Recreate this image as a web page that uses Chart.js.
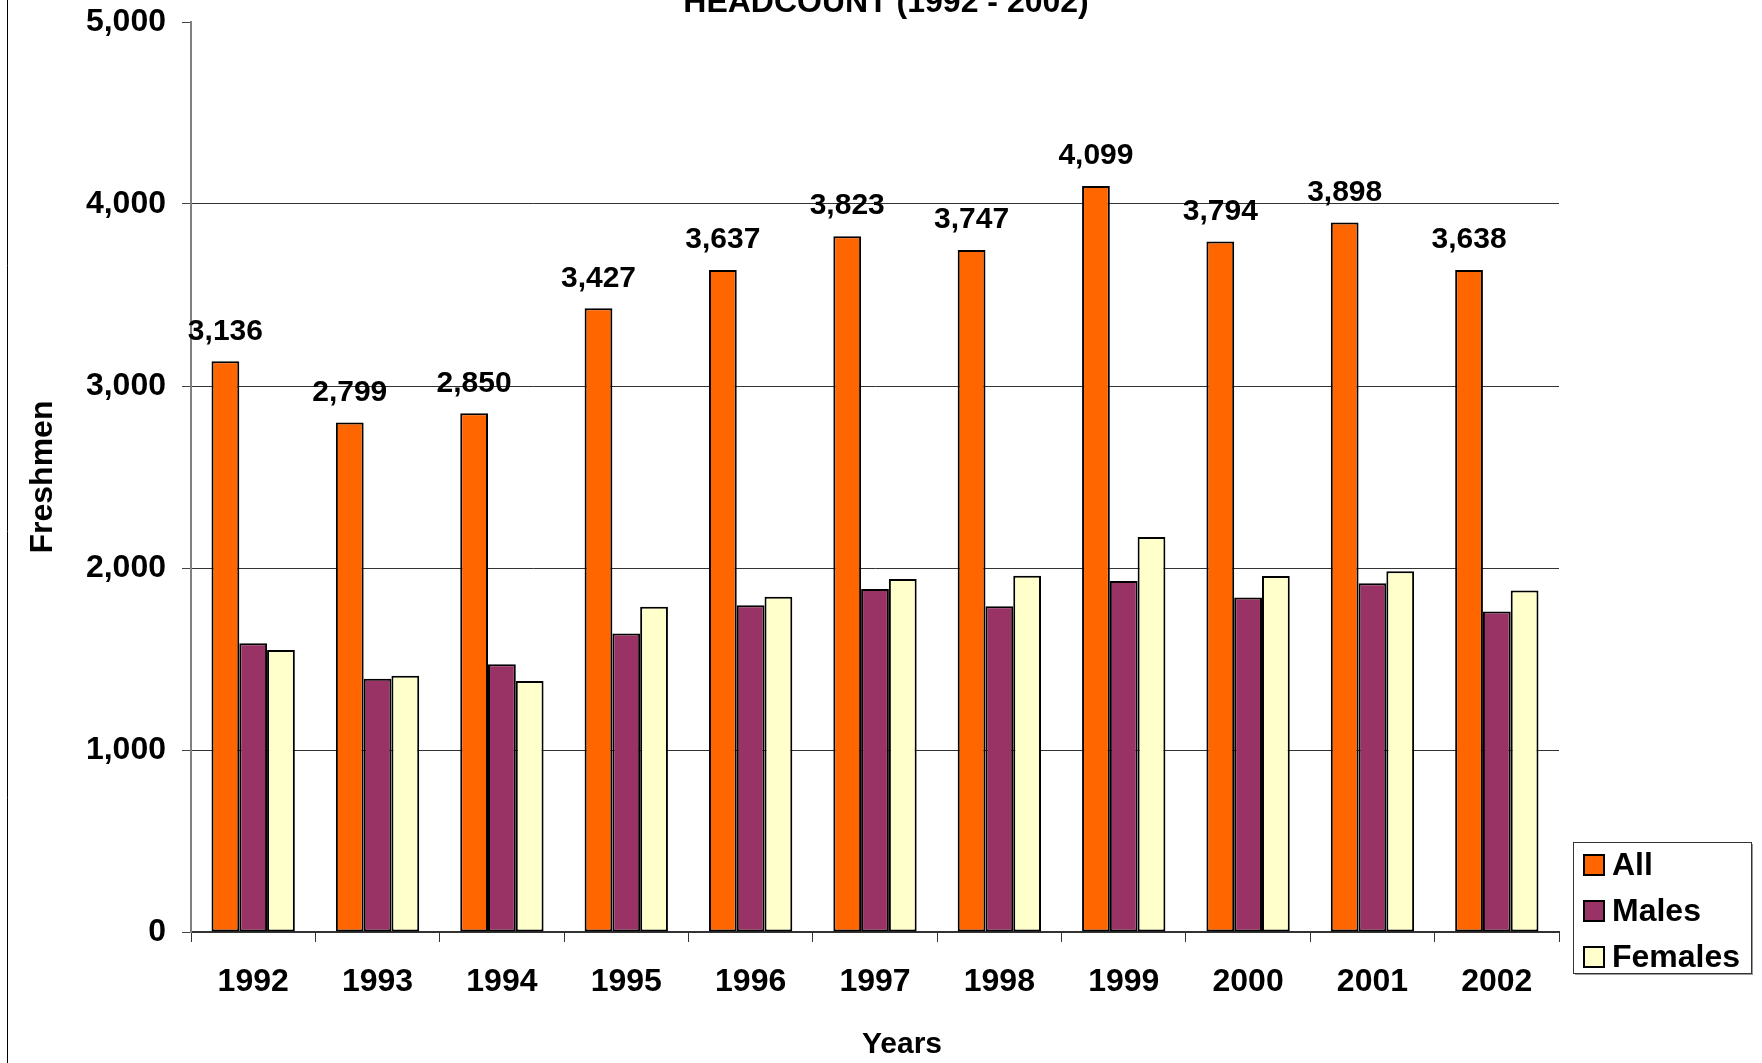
<!DOCTYPE html>
<html>
<head>
<meta charset="utf-8">
<script src="https://cdn.jsdelivr.net/npm/chart.js@4.4.0/dist/chart.umd.min.js"></script>
<style>
    html, body { margin: 0; padding: 0; background: #fff; }
    #chartData { display: block; }
</style>
</head>
<body>
<canvas id="chartData" width="1762" height="1063"></canvas>
<script>
let years = ["1992", "1993", "1994", "1995", "1996", "1997", "1998", "1999", "2000", "2001", "2002"];
let allCounts = [3136, 2799, 2850, 3427, 3637, 3823, 3747, 4099, 3794, 3898, 3638];
let males = [1586, 1391, 1471, 1640, 1795, 1884, 1790, 1929, 1838, 1916, 1761];
let females = [1550, 1408, 1379, 1787, 1842, 1939, 1957, 2170, 1956, 1982, 1877];
let seriesNames = ["All", "Males", "Females"];
let yMin = 0, yMax = 5000, yStep = 1000;

const FONT = "'Liberation Sans', Arial, sans-serif";

// value labels over the "All" bars
const valueLabels = {
    id: "valueLabels",
    afterDatasetsDraw(chart) {
        const ctx = chart.ctx;
        const meta = chart.getDatasetMeta(0);
        ctx.save();
        ctx.font = "bold 30px " + FONT;
        ctx.fillStyle = "#000";
        ctx.textAlign = "center";
        ctx.textBaseline = "middle";
        meta.data.forEach((bar, i) => {
            ctx.fillText(allCounts[i].toLocaleString("en-US"), bar.x, bar.y - 30);
        });
        ctx.restore();
    }
};

// title, x axis title, frame line and boxed legend
const extras = {
    id: "extras",
    afterDraw(chart) {
        const ctx = chart.ctx;
        ctx.save();
        ctx.strokeStyle = "#000";
        ctx.lineWidth = 1;
        ctx.beginPath();
        ctx.moveTo(7.5, 0);
        ctx.lineTo(7.5, chart.height);
        ctx.stroke();

        ctx.fillStyle = "#000";
        ctx.textAlign = "center";
        ctx.font = "bold 32px " + FONT;
        ctx.textBaseline = "alphabetic";
        ctx.fillText("HEADCOUNT (1992 - 2002)", 886, 12);

        ctx.font = "bold 30px " + FONT;
        ctx.textBaseline = "middle";
        ctx.fillText("Years", 902, 1045);

        // legend
        const lx = 1573, ly = 842, lw = 178, lh = 131;
        ctx.fillStyle = "#999";
        ctx.fillRect(lx + 2, ly + 2, lw, lh);
        ctx.fillStyle = "#fff";
        ctx.fillRect(lx, ly, lw, lh);
        ctx.strokeStyle = "#333";
        ctx.strokeRect(lx + 0.5, ly + 0.5, lw, lh);
        ctx.textAlign = "left";
        ctx.font = "bold 32px " + FONT;
        chart.data.datasets.forEach((ds, i) => {
            const cy = 865 + i * 46;
            ctx.fillStyle = ds.backgroundColor;
            ctx.fillRect(1584, cy - 10, 20, 20);
            ctx.lineWidth = 2;
            ctx.strokeStyle = "#000";
            ctx.strokeRect(1584, cy - 10, 20, 20);
            ctx.fillStyle = "#000";
            ctx.fillText(ds.label, 1612, cy + 1);
        });
        ctx.restore();
    }
};

new Chart(document.getElementById("chartData"), {
    type: "bar",
    data: {
        labels: years,
        datasets: [
            { label: seriesNames[0], data: allCounts, backgroundColor: "#FF6600" },
            { label: seriesNames[1], data: males, backgroundColor: "#993366" },
            { label: seriesNames[2], data: females, backgroundColor: "#FFFFCC" }
        ]
    },
    options: {
        responsive: false,
        devicePixelRatio: 1,
        animation: false,
        layout: { padding: { left: 0, right: 203, top: 22, bottom: 0 } },
        datasets: {
            bar: {
                categoryPercentage: 0.67,
                barPercentage: 1.0,
                borderColor: "#000",
                borderWidth: 2,
                borderSkipped: false
            }
        },
        plugins: {
            legend: { display: false },
            tooltip: { enabled: false }
        },
        scales: {
            x: {
                afterFit: s => { s.height = 131; s.paddingLeft = 0; s.paddingRight = 0; },
                grid: {
                    offset: true,
                    drawOnChartArea: false,
                    tickLength: 10,
                    tickColor: "#333"
                },
                border: { color: "#333", width: 2 },
                ticks: {
                    color: "#000",
                    padding: 21,
                    font: { family: FONT, size: 32, weight: "bold" }
                }
            },
            y: {
                min: yMin,
                max: yMax,
                afterFit: s => { s.width = 191; s.paddingTop = 0; s.paddingBottom = 0; },
                grid: {
                    color: c => (c.tick && (c.tick.value === yMax || c.tick.value === yMin)) ? "rgba(0,0,0,0)" : "#333",
                    tickLength: 9,
                    tickColor: "#444"
                },
                border: { color: "#808080", width: 2 },
                ticks: {
                    stepSize: yStep,
                    color: "#000",
                    padding: 16,
                    font: { family: FONT, size: 32, weight: "bold" }
                },
                title: {
                    display: true,
                    text: "Freshmen",
                    color: "#000",
                    padding: { top: 24, bottom: 0 },
                    font: { family: FONT, size: 32, weight: "bold" }
                }
            }
        }
    },
    plugins: [valueLabels, extras]
});
</script>
</body>
</html>
